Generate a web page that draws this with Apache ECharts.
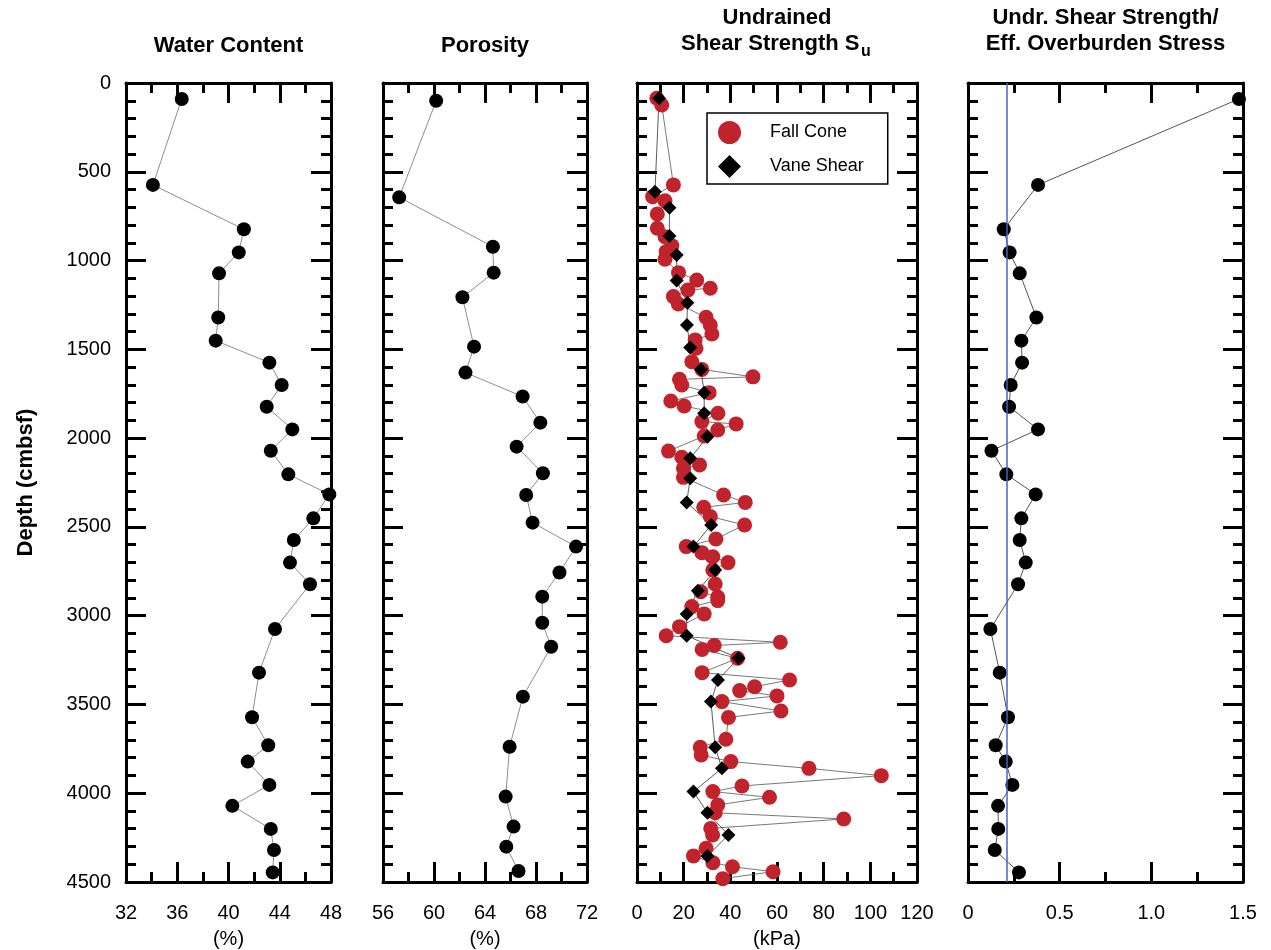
<!DOCTYPE html>
<html><head><meta charset="utf-8">
<script src="https://cdn.jsdelivr.net/npm/echarts@6/dist/echarts.min.js"></script>
<style>html,body{margin:0;padding:0;background:#fff}#c{width:1271px;height:950px}</style>
</head><body><div id="c"></div>
<script>
// ---------- DATA ----------
const wcDepth = [90,574,824,954,1072,1321,1451,1575,1701,1823,1951,2071,2204,2317,2452,2574,2701,2823,3075,3321,3572,3730,3822,3953,4071,4201,4320,4446];
const waterContent = [36.35,34.1,41.2,40.8,39.26,39.2,39.0,43.19,44.15,42.98,44.98,43.3,44.67,47.87,46.62,45.1,44.8,46.36,43.63,42.38,41.84,43.1,41.5,43.19,40.3,43.3,43.55,43.45];
const ratio = [1.478,0.382,0.195,0.227,0.282,0.373,0.291,0.295,0.233,0.224,0.382,0.128,0.209,0.369,0.291,0.282,0.315,0.273,0.122,0.173,0.218,0.151,0.206,0.242,0.164,0.165,0.146,0.278];

const porDepth = [100,644,922,1068,1207,1485,1631,1766,1913,2048,2198,2320,2476,2611,2757,2893,3040,3175,3456,3738,4019,4188,4301,4438];
const porosity = [60.17,57.27,64.62,64.68,62.23,63.14,62.47,66.95,68.34,66.48,68.54,67.23,67.73,71.14,69.84,68.49,68.49,69.19,66.97,65.93,65.62,66.24,65.67,66.63];

const fcDepth = [86,124,574,640,663,738,818,866,916,950,993,1068,1110,1156,1166,1203,1245,1320,1363,1414,1447,1494,1570,1613,1655,1669,1701,1744,1791,1819,1860,1907,1920,1954,1988,2073,2108,2151,2170,2221,2320,2362,2390,2442,2489,2568,2611,2645,2668,2701,2743,2822,2865,2895,2915,2949,2990,3062,3113,3150,3168,3190,3240,3321,3362,3400,3422,3452,3484,3537,3573,3696,3741,3785,3822,3860,3901,3959,3991,4023,4066,4110,4145,4198,4235,4310,4353,4391,4414,4442,4481];
const fallCone = [8.5,10.6,15.6,6.7,12.0,8.7,8.7,12.0,14.9,12.5,12.0,17.8,25.6,31.4,21.8,15.6,17.7,29.6,31.4,32.1,24.9,25.3,23.5,27.8,49.7,18.2,19.2,30.9,14.5,20.2,34.7,27.8,42.5,34.6,28.8,13.5,19.2,26.8,19.9,19.9,37.1,46.4,28.6,31.4,46.1,33.8,21.1,27.8,32.5,39.0,32.5,33.5,27.3,34.6,34.6,23.5,28.8,18.2,12.5,61.4,33.1,27.9,43.1,27.9,65.4,50.4,44.0,60.0,36.4,61.7,39.2,38.1,27.1,27.5,40.2,73.7,104.7,45.0,32.5,56.8,34.6,33.5,88.6,31.6,32.4,29.6,24.2,32.5,40.9,58.3,36.8];

const vsDepth = [86,612,702,862,969,1113,1237,1363,1489,1613,1744,1860,1992,2114,2226,2362,2489,2611,2743,2859,2990,3113,3240,3362,3484,3741,3860,3991,4110,4235,4353];
const vaneShear = [9.45,7.7,13.9,13.9,17.0,17.0,21.6,21.4,22.8,27.4,28.8,28.8,30.2,22.8,22.8,21.3,31.8,24.2,33.5,26.1,21.3,21.3,43.5,34.7,31.7,33.5,36.4,24.2,30.2,39.2,30.2];

const ratioReference = 0.21;

const panelTitles = ['Water Content','Porosity','Undrained','Undr. Shear Strength/'];
const xUnits = ['(%)','(%)','(kPa)',''];
const depthName = 'Depth (cmbsf)';
const legendNames = ['Fall Cone','Vane Shear'];

// ---------- LAYOUT ----------
const FONT = '"Liberation Sans", Arial, Helvetica, sans-serif';
const grids = [
  {left:126, top:83, width:205, height:799},
  {left:383, top:83, width:204, height:799},
  {left:637, top:83, width:280, height:799},
  {left:968, top:83, width:275, height:799}
].map(g => Object.assign(g, {containLabel:false, outerBoundsMode:'none'}));
const xCfg = [
  {min:32, max:48, interval:4},
  {min:56, max:72, interval:4},
  {min:0, max:120, interval:20},
  {min:0, max:1.5, interval:0.5, fmt: v => v === 0 ? '0' : v.toFixed(1)}
];

const tickStyle = {color:'#000', width:3};
function xAxisPair(g){
  const c = xCfg[g];
  const base = {
    type:'value', gridIndex:g, min:c.min, max:c.max, interval:c.interval,
    axisLine:{show:true, onZero:false, lineStyle:{color:'#000', width:3}},
    axisTick:{show:true, inside:true, length:20, lineStyle:tickStyle},
    minorTick:{show:true, splitNumber:2, length:10, lineStyle:tickStyle},
    splitLine:{show:false}, minorSplitLine:{show:false}
  };
  return [
    Object.assign({}, base, {
      position:'bottom',
      axisLabel:{show:true, margin:21, color:'#000', fontSize:20, fontFamily:FONT,
        formatter: c.fmt || (v => String(v))},
      name:xUnits[g], nameLocation:'middle', nameGap:47,
      nameTextStyle:{color:'#000', fontSize:20, fontFamily:FONT}
    }),
    Object.assign({}, base, {position:'top', axisLabel:{show:false}})
  ];
}
function yAxisPair(g){
  const base = {
    type:'value', gridIndex:g, min:0, max:4500, interval:500, inverse:true,
    axisLine:{show:true, onZero:false, lineStyle:{color:'#000', width:3}},
    axisTick:{show:true, inside:true, length:20, lineStyle:tickStyle},
    minorTick:{show:true, splitNumber:5, length:10, lineStyle:tickStyle},
    splitLine:{show:false}, minorSplitLine:{show:false}
  };
  const left = Object.assign({}, base, {position:'left',
    axisLabel:{show:g===0, margin:15, color:'#000', fontSize:20, fontFamily:FONT, formatter: v => String(v)}});
  if (g === 0) {
    left.name = depthName; left.nameLocation = 'middle'; left.nameGap = 89;
    left.nameTextStyle = {color:'#000', fontSize:22, fontWeight:'bold', fontFamily:FONT};
  }
  return [left, Object.assign({}, base, {position:'right', axisLabel:{show:false}})];
}

const xAxes = [], yAxes = [];
for (let g = 0; g < 4; g++) { xAxes.push(...xAxisPair(g)); yAxes.push(...yAxisPair(g)); }

const pair = (xs, ds) => ds.map((d, i) => [xs[i], d]);
const RED = '#c1232c';

const series = [
  {type:'line', name:'wc', xAxisIndex:0, yAxisIndex:0, data:pair(waterContent, wcDepth),
   symbol:'circle', symbolSize:14, itemStyle:{color:'#000'}, lineStyle:{color:'#808080', width:0.9}},
  {type:'line', name:'por', xAxisIndex:2, yAxisIndex:2, data:pair(porosity, porDepth),
   symbol:'circle', symbolSize:14, itemStyle:{color:'#000'}, lineStyle:{color:'#808080', width:0.9}},
  {type:'line', name:legendNames[0], xAxisIndex:4, yAxisIndex:4, data:pair(fallCone, fcDepth),
   symbol:'circle', symbolSize:15, itemStyle:{color:RED}, lineStyle:{color:'#555', width:0.8}},
  {type:'line', name:legendNames[1], xAxisIndex:4, yAxisIndex:4, data:pair(vaneShear, vsDepth),
   symbol:'diamond', symbolSize:14, itemStyle:{color:'#000'}, lineStyle:{color:'#333', width:0.8}},
  {type:'line', name:'ratio', xAxisIndex:6, yAxisIndex:6, data:pair(ratio, wcDepth),
   symbol:'circle', symbolSize:14, itemStyle:{color:'#000'}, lineStyle:{color:'#555', width:1},
   markLine:{silent:true, symbol:'none', animation:false, label:{show:false},
     lineStyle:{color:'#4e5fc2', width:1.5, type:'solid'}, emphasis:{disabled:true},
     data:[{xAxis: ratioReference}]}}
];

function txt(x, y, text, size, align){
  return {type:'text', x:x, y:y, silent:true, style:{text:text, font:'bold '+size+'px '+FONT,
    fill:'#000', align:align||'center', verticalAlign:'middle', textAlign:align||'center', textVerticalAlign:'middle'}};
}
const centers = grids.map(g => g.left + g.width/2);

const option = {
  animation:false,
  backgroundColor:'#fff',
  grid:grids,
  xAxis:xAxes,
  yAxis:yAxes,
  series:series,
  legend:{
    data:[{name:legendNames[0], icon:'circle'}, {name:legendNames[1], icon:'diamond'}],
    orient:'vertical', left:707, top:113,
    itemWidth:23, itemHeight:23, itemGap:11,
    padding:[8,24,6,11],
    borderColor:'#000', borderWidth:1.5, selectedMode:false,
    textStyle:{color:'#000', fontSize:18, fontFamily:FONT, padding:[0,0,0,24]}
  },
  graphic:[
    txt(centers[0], 46, panelTitles[0], 22),
    txt(centers[1], 46, panelTitles[1], 22),
    txt(centers[2], 18, panelTitles[2], 22),
    txt(681, 44, 'Shear Strength S', 22, 'left'),
    txt(861, 52, 'u', 16, 'left'),
    txt(centers[3], 18, panelTitles[3], 22),
    txt(centers[3], 44, 'Eff. Overburden Stress', 22)
  ]
};
const chart = echarts.init(document.getElementById('c'), null, {renderer:'canvas'});
chart.setOption(option);
</script>
</body></html>
